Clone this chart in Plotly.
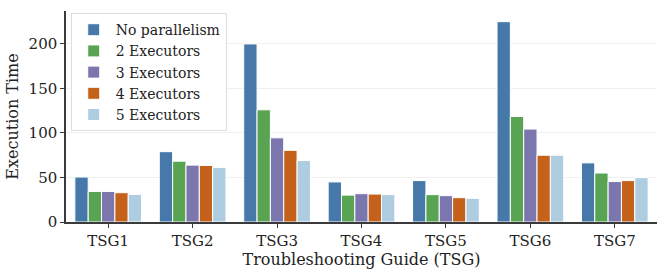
import plotly.graph_objects as go

categories = ["TSG1", "TSG2", "TSG3", "TSG4", "TSG5", "TSG6", "TSG7"]
series_names = ["No parallelism", "2 Executors", "3 Executors", "4 Executors", "5 Executors"]
no_parallelism = [50.5, 79, 200, 45, 46.5, 225, 66.4]
executors_2 = [34.3, 68.3, 126, 30.2, 30.7, 118.5, 55]
executors_3 = [34.3, 63.9, 94.5, 31.8, 29.6, 104.4, 45.4]
executors_4 = [32.9, 63.5, 80.5, 31.4, 27.3, 75, 46.5]
executors_5 = [31, 61.3, 69, 30.7, 26.6, 75, 49.8]
y_ticks = [0, 50, 100, 150, 200]

colors = ["#4679aa", "#59a452", "#7b76ad", "#c4611a", "#aecde1"]
values = [no_parallelism, executors_2, executors_3, executors_4, executors_5]

font_family = "DejaVu Serif"
fig = go.Figure()
for name, vals, c in zip(series_names, values, colors):
    fig.add_trace(go.Bar(x=categories, y=vals, name=name,
                         marker=dict(color=c, line=dict(color="white", width=1))))

fig.update_layout(
    width=668, height=274,
    margin=dict(l=62, r=11, t=11, b=50),
    paper_bgcolor="white", plot_bgcolor="white",
    barmode="group", bargap=0.21, bargroupgap=0,
    font=dict(family=font_family, size=15, color="#222222"),
    legend=dict(x=0.008, y=0.99, xanchor="left", yanchor="top",
                bgcolor="white", bordercolor="#dddddd", borderwidth=1,
                font=dict(size=14, color="#222222"), itemwidth=34,
                tracegroupgap=0),
    showlegend=True,
)
fig.update_xaxes(
    type="category", range=[-0.5, 6.5],
    showline=True, linecolor="#3a3a3a", linewidth=1.5,
    ticks="outside", ticklen=4, tickcolor="#3a3a3a",
    showgrid=False,
    title=dict(text="Troubleshooting Guide (TSG)", font=dict(size=16), standoff=2),
    tickfont=dict(size=15),
)
fig.update_yaxes(
    range=[0, 237], tickvals=y_ticks,
    showline=True, linecolor="#3a3a3a", linewidth=1.5,
    ticks="outside", ticklen=4, tickcolor="#3a3a3a",
    showgrid=True, gridcolor="#efefef", gridwidth=1,
    zeroline=False,
    title=dict(text="Execution Time", font=dict(size=16), standoff=6),
    tickfont=dict(size=15),
)
fig.write_html("out.html", config={"displayModeBar": False, "responsive": False},
               post_script="document.body.style.margin='0';")
